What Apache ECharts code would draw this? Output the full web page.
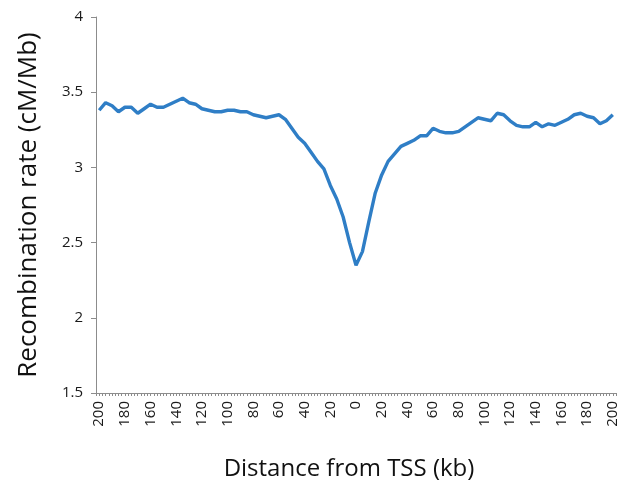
<!DOCTYPE html>
<html>
<head>
<meta charset="utf-8">
<script src="https://cdn.jsdelivr.net/npm/echarts@6/dist/echarts.min.js"></script>
<style>
  html, body { margin: 0; padding: 0; background: #fff; }
  #chart { width: 629px; height: 484px; }
</style>
</head>
<body>
<div id="chart"></div>
<script>
// distance from TSS, kb (negative = upstream)
const distances = [
  -200, -195, -190, -185, -180, -175, -170, -165, -160, -155,
  -150, -145, -140, -135, -130, -125, -120, -115, -110, -105,
  -100, -95, -90, -85, -80, -75, -70, -65, -60, -55,
  -50, -45, -40, -35, -30, -25, -20, -15, -10, -5,
  0, 5, 10, 15, 20, 25, 30, 35, 40, 45,
  50, 55, 60, 65, 70, 75, 80, 85, 90, 95,
  100, 105, 110, 115, 120, 125, 130, 135, 140, 145,
  150, 155, 160, 165, 170, 175, 180, 185, 190, 195, 200
];

// recombination rate, cM/Mb
const rates = [
  3.38, 3.43, 3.41, 3.37, 3.40, 3.40, 3.36, 3.39, 3.42, 3.40,
  3.40, 3.42, 3.44, 3.46, 3.43, 3.42, 3.39, 3.38, 3.37, 3.37,
  3.38, 3.38, 3.37, 3.37, 3.35, 3.34, 3.33, 3.34, 3.35, 3.32,
  3.26, 3.20, 3.16, 3.10, 3.04, 2.99, 2.88, 2.79, 2.67, 2.50,
  2.35, 2.44, 2.64, 2.83, 2.95, 3.04, 3.09, 3.14, 3.16, 3.18,
  3.21, 3.21, 3.26, 3.24, 3.23, 3.23, 3.24, 3.27, 3.30, 3.33,
  3.32, 3.31, 3.36, 3.35, 3.31, 3.28, 3.27, 3.27, 3.30, 3.27,
  3.29, 3.28, 3.30, 3.32, 3.35, 3.36, 3.34, 3.33, 3.29, 3.31, 3.35
];

const yTicks = { min: 1.5, max: 4, step: 0.5 };
const labelEvery = 20; // kb between x labels

const chart = echarts.init(document.getElementById('chart'));

const fontFamily = '"Open Sans", "Liberation Sans", sans-serif';
const axisGrey = '#8c8c8c';

chart.setOption({
  animation: false,
  grid: { left: 96, right: 13, top: 17, bottom: 91, outerBoundsMode: 'none' },
  xAxis: {
    type: 'value',
    min: -202.5,
    max: 202.5,
    interval: 2.5,
    name: 'Distance from TSS (kb)',
    nameLocation: 'middle',
    nameGap: 64,
    nameTextStyle: { fontFamily, fontSize: 24, color: '#111', padding: [0, 14, 0, 0] },
    axisLine: { show: true, onZero: false, lineStyle: { color: axisGrey, width: 1 } },
    axisTick: { show: true, length: 3, lineStyle: { color: axisGrey } },
    splitLine: { show: false },
    axisLabel: {
      rotate: 90,
      margin: 8,
      fontFamily,
      fontSize: 15,
      color: '#1a1a1a',
      hideOverlap: false,
      showMinLabel: true,
      showMaxLabel: true,
      formatter: v => {
        const r = Math.round(v * 10) / 10;
        return r % labelEvery === 0 ? String(Math.abs(r)) : '';
      }
    }
  },
  yAxis: {
    type: 'value',
    min: yTicks.min,
    max: yTicks.max,
    interval: yTicks.step,
    name: 'Recombination rate (cM/Mb)',
    nameLocation: 'middle',
    nameGap: 54,
    nameTextStyle: { fontFamily, fontSize: 26, color: '#111' },
    axisLine: { show: true, onZero: false, lineStyle: { color: axisGrey, width: 1 } },
    axisTick: { show: true, length: 5, lineStyle: { color: axisGrey } },
    splitLine: { show: false },
    axisLabel: { margin: 13, fontFamily, fontSize: 15, color: '#1a1a1a' }
  },
  series: [{
    type: 'line',
    data: distances.map((d, i) => [d, rates[i]]),
    showSymbol: false,
    lineStyle: { color: '#2f7ec6', width: 3.4 },
    itemStyle: { color: '#2f7ec6' }
  }]
});
</script>
</body>
</html>
